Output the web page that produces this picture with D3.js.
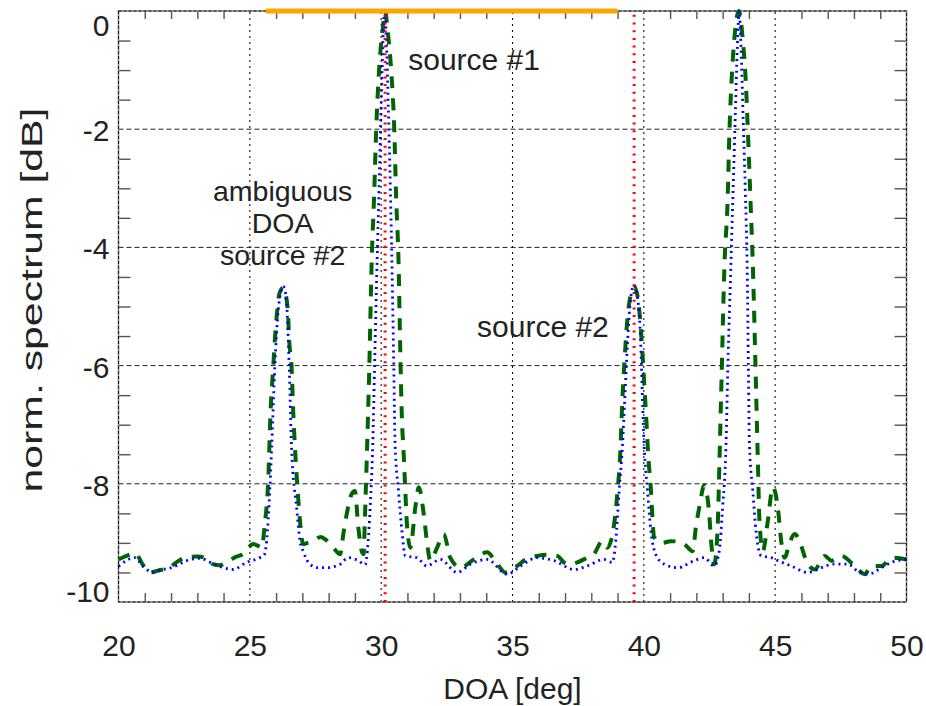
<!DOCTYPE html>
<html>
<head>
<meta charset="utf-8">
<script src="https://cdn.jsdelivr.net/npm/d3@7"></script>
<style>
  body { margin: 0; background: #fff; }
  text { font-family: "Liberation Sans", Arial, Helvetica, sans-serif; fill: #222; }
</style>
</head>
<body>
<svg id="chart" width="926" height="706"></svg>
<script>
// Axis ticks
const doaTicks = [20, 25, 30, 35, 40, 45, 50];
const dbTicks = [0, -2, -4, -6, -8, -10];

// Normalised spectrum, dashed (green) estimator: [DOA deg, dB]
const dashedTrace = [
  [20.0,-9.28],[20.3,-9.22],[20.65,-9.18],[20.9,-9.35],[21.18,-9.5],[21.5,-9.47],[21.95,-9.41],[22.3,-9.3],
  [22.6,-9.24],[23.0,-9.23],[23.35,-9.26],[23.6,-9.36],[23.85,-9.38],[24.11,-9.33],[24.45,-9.24],[24.75,-9.19],
  [25.13,-9.02],[25.35,-9.06],[25.45,-9.08],[25.57,-8.68],[25.7,-7.95],[25.79,-6.76],[25.89,-6.03],[25.95,-5.58],
  [26.02,-5.18],[26.12,-4.79],[26.27,-4.68],[26.37,-4.8],[26.46,-5.18],[26.5,-5.58],[26.59,-6.03],[26.65,-6.76],
  [26.72,-7.4],[26.84,-8.23],[26.91,-8.63],[27.03,-9.02],[27.2,-9.0],[27.42,-8.97],[27.7,-8.9],[27.9,-8.95],
  [28.18,-9.08],[28.44,-9.19],[28.56,-8.85],[28.69,-8.51],[28.88,-8.17],[29.0,-8.12],[29.13,-8.74],[29.26,-9.14],
  [29.33,-9.19],[29.38,-8.6],[29.45,-7.6],[29.55,-6.0],[29.64,-4.22],[29.73,-3.15],[29.81,-2.02],[29.92,-1.0],
  [30.06,-0.3],[30.15,0],[30.24,-0.3],[30.38,-1.0],[30.5,-2.02],[30.57,-3.15],[30.66,-4.22],[30.73,-5.8],
  [30.79,-6.9],[30.85,-7.43],[30.92,-8.12],[30.98,-8.68],[31.11,-9.08],[31.3,-8.4],[31.43,-8.06],[31.62,-8.51],
  [31.74,-8.97],[31.87,-9.3],[32.13,-9.08],[32.38,-8.85],[32.63,-9.25],[33.02,-9.42],[33.52,-9.28],[34.03,-9.16],
  [34.42,-9.36],[34.73,-9.5],[35.18,-9.39],[35.5,-9.28],[35.94,-9.22],[36.3,-9.2],[36.71,-9.22],[36.96,-9.33],
  [37.2,-9.36],[37.47,-9.33],[37.8,-9.26],[38.1,-9.19],[38.42,-8.97],[38.61,-9.08],[38.87,-8.68],[39.0,-8.12],
  [39.1,-7.5],[39.18,-6.6],[39.25,-6.03],[39.38,-5.18],[39.5,-4.8],[39.63,-4.67],[39.75,-4.8],[39.85,-5.18],
  [39.98,-6.03],[40.08,-6.8],[40.18,-7.6],[40.27,-8.1],[40.33,-8.6],[40.39,-8.9],[40.7,-9.0],[41.03,-8.97],
  [41.3,-8.98],[41.54,-9.02],[41.86,-9.14],[41.98,-8.74],[42.11,-8.4],[42.3,-8.03],[42.49,-8.51],[42.56,-8.97],
  [42.68,-9.36],[42.81,-8.74],[42.88,-7.6],[42.96,-6.2],[43.07,-4.3],[43.19,-3.2],[43.26,-2.02],[43.35,-1.1],
  [43.44,-0.5],[43.62,0],[43.77,-0.5],[43.87,-1.1],[43.96,-2.02],[44.06,-3.2],[44.15,-4.3],[44.25,-6.0],
  [44.34,-7.6],[44.4,-8.6],[44.53,-9.14],[44.72,-8.63],[44.91,-8.06],[45.1,-8.4],[45.23,-8.97],[45.36,-9.25],
  [45.55,-9.0],[45.74,-8.85],[45.93,-8.97],[46.18,-9.3],[46.5,-9.45],[46.89,-9.22],[47.14,-9.3],[47.52,-9.22],
  [48.03,-9.39],[48.41,-9.53],[48.66,-9.39],[49.05,-9.39],[49.43,-9.25],[50.0,-9.28]
];

// Normalised spectrum, dotted (blue) estimator: [DOA deg, dB]
const dottedTrace = [
  [20.0,-9.4],[20.3,-9.3],[20.61,-9.25],[20.95,-9.4],[21.31,-9.5],[21.7,-9.45],[22.07,-9.41],[22.6,-9.3],
  [23.09,-9.26],[23.6,-9.35],[24.0,-9.42],[24.36,-9.45],[24.87,-9.33],[25.38,-9.25],[25.55,-9.2],[25.64,-8.97],
  [25.76,-8.1],[25.83,-7.4],[25.95,-6.03],[26.08,-5.07],[26.18,-4.75],[26.27,-4.66],[26.35,-4.75],[26.42,-5.07],
  [26.5,-6.03],[26.59,-7.4],[26.78,-8.4],[26.91,-8.97],[27.03,-9.14],[27.29,-9.36],[27.6,-9.42],[27.93,-9.42],
  [28.44,-9.36],[28.75,-9.25],[29.13,-9.3],[29.39,-9.37],[29.5,-9.0],[29.58,-8.4],[29.68,-7.33],[29.75,-6.0],
  [29.83,-4.5],[29.92,-3.0],[30.0,-1.6],[30.07,-0.5],[30.13,0],[30.2,-0.5],[30.27,-1.6],[30.35,-3.0],
  [30.42,-4.5],[30.48,-6.0],[30.53,-7.33],[30.66,-8.12],[30.79,-8.8],[30.92,-9.22],[31.36,-9.25],[31.74,-9.39],
  [32.25,-9.28],[32.89,-9.5],[33.4,-9.36],[34.03,-9.28],[34.8,-9.53],[35.31,-9.39],[35.94,-9.25],[36.58,-9.3],
  [37.34,-9.45],[37.85,-9.39],[38.48,-9.28],[38.8,-9.33],[38.93,-8.97],[39.06,-8.12],[39.19,-7.33],[39.27,-6.6],
  [39.38,-5.6],[39.5,-4.85],[39.63,-4.64],[39.76,-4.85],[39.88,-5.6],[39.95,-6.6],[40.01,-7.33],[40.14,-8.12],
  [40.27,-8.8],[40.46,-9.2],[40.78,-9.36],[41.29,-9.42],[41.92,-9.3],[42.3,-9.25],[42.68,-9.39],[42.87,-9.14],
  [43.0,-8.4],[43.13,-7.33],[43.2,-6.0],[43.3,-4.5],[43.4,-3.0],[43.48,-1.8],[43.56,-0.6],[43.63,0],
  [43.7,-0.6],[43.78,-1.8],[43.86,-3.0],[43.94,-4.5],[43.98,-6.0],[44.02,-7.33],[44.15,-8.12],[44.27,-8.8],
  [44.47,-9.22],[44.85,-9.25],[45.1,-9.3],[45.61,-9.39],[46.25,-9.5],[46.76,-9.42],[47.2,-9.36],[47.77,-9.36],
  [48.15,-9.48],[48.54,-9.53],[49.05,-9.42],[49.43,-9.33],[50.0,-9.28]
];

// True source directions (deg) and the scanned sector (deg)
const sourceDoa = [30.15, 39.63];
const sectorRange = [25.6, 39.0];

// Text annotations
const noteLines = ["source #1", "ambiguous", "DOA", "source #2", "source #2"];

const svg = d3.select("#chart");
const x = d3.scaleLinear().domain([20, 50]).range([118.5, 906.5]);
const y = d3.scaleLinear().domain([-10, 0]).range([602, 11]);
const [x0, x1] = x.range();
const [y0, y1] = y.range();
const plainNumber = d => String(d);

// grid
const grid = svg.append("g");
grid.selectAll("line.v").data(doaTicks.slice(1, -1)).join("line")
  .attr("x1", d => x(d)).attr("x2", d => x(d)).attr("y1", y0).attr("y2", y1)
  .attr("stroke", "#111").attr("stroke-width", 1.1).attr("stroke-dasharray", "2,4");
grid.selectAll("line.h").data(dbTicks.slice(1, -1)).join("line")
  .attr("x1", x0).attr("x2", x1).attr("y1", d => y(d)).attr("y2", d => y(d))
  .attr("stroke", "#222").attr("stroke-width", 1).attr("stroke-dasharray", "5,3");

// minor ticks via axes
const xMinor = d3.range(21, 50).filter(v => v % 5 !== 0);
const yMinor = d3.range(-9.5, 0, 0.5).filter(v => v % 2 !== 0);
function styleMinor(g) {
  g.select(".domain").remove();
  g.selectAll(".tick line").attr("stroke", "#555").attr("stroke-width", 1.4);
}
svg.append("g").attr("transform", `translate(0,${y0})`)
  .call(d3.axisBottom(x).tickValues(xMinor).tickSize(-9).tickFormat("")).call(styleMinor);
svg.append("g").attr("transform", `translate(0,${y1})`)
  .call(d3.axisTop(x).tickValues(xMinor).tickSize(-8).tickFormat("")).call(styleMinor);
svg.append("g").attr("transform", `translate(${x0},0)`)
  .call(d3.axisLeft(y).tickValues(yMinor).tickSize(-12).tickFormat("")).call(styleMinor);
svg.append("g").attr("transform", `translate(${x1},0)`)
  .call(d3.axisRight(y).tickValues(yMinor).tickSize(-12).tickFormat("")).call(styleMinor);

// frame
svg.append("rect").attr("x", x0).attr("y", y1).attr("width", x1 - x0).attr("height", y0 - y1)
  .attr("fill", "none").attr("stroke", "#888").attr("stroke-width", 1.6);
svg.append("rect").attr("x", x0).attr("y", y1).attr("width", x1 - x0).attr("height", y0 - y1)
  .attr("fill", "none").attr("stroke", "#111").attr("stroke-width", 1).attr("stroke-dasharray", "3,2");

// tick labels
const xAxis = svg.append("g").attr("transform", `translate(0,${y0})`)
  .call(d3.axisBottom(x).tickValues(doaTicks).tickSize(0).tickPadding(33).tickFormat(plainNumber));
xAxis.select(".domain").remove();
xAxis.selectAll("text").attr("font-size", 30).attr("font-family", null).style("fill", "#222");

const yAxis = svg.append("g").attr("transform", `translate(${x0},0)`)
  .call(d3.axisLeft(y).tickValues(dbTicks).tickSize(0).tickPadding(9).tickFormat(plainNumber));
yAxis.select(".domain").remove();
yAxis.selectAll("text").attr("font-size", 30).attr("font-family", null).style("fill", "#222")
  .attr("dy", d => d === 0 ? "0.82em" : (d === -10 ? "-0.03em" : "0.38em"));

// axis titles
svg.append("text").attr("x", (x0 + x1) / 2).attr("y", 699).attr("text-anchor", "middle")
  .attr("font-size", 30).text("DOA [deg]");
svg.append("text").attr("transform", `translate(42,300) rotate(-90)`)
  .attr("text-anchor", "middle").attr("font-size", 30)
  .attr("textLength", 385).attr("lengthAdjust", "spacingAndGlyphs")
  .text("norm. spectrum [dB]");

// spectra
const line = d3.line().x(d => x(d[0])).y(d => y(d[1])).curve(d3.curveMonotoneX);
svg.append("path").datum(dashedTrace).attr("d", line)
  .attr("fill", "none").attr("stroke", "#006400").attr("stroke-width", 4)
  .attr("stroke-dasharray", "12,10");
svg.append("path").datum(dottedTrace).attr("d", line)
  .attr("fill", "none").attr("stroke", "#0000ff").attr("stroke-width", 2.8)
  .attr("stroke-dasharray", "2,4");

// source directions
svg.selectAll("line.src").data(sourceDoa).join("line")
  .attr("x1", d => x(d)).attr("x2", d => x(d)).attr("y1", y0).attr("y2", y1)
  .attr("stroke", "#ff0000").attr("stroke-width", 3).attr("stroke-dasharray", "2,5.7");

// scanned sector bar
svg.append("line").attr("x1", x(sectorRange[0])).attr("x2", x(sectorRange[1]))
  .attr("y1", y(0)).attr("y2", y(0)).attr("stroke", "#ffa500").attr("stroke-width", 5);

// annotations (anchored in data coordinates)
const notes = [
  { t: noteLines[0], dx: 31.03, db: -1.0, anchor: "start", size: 30 },
  { t: noteLines[1], dx: 26.25, db: -3.22, anchor: "middle", size: 28.5 },
  { t: noteLines[2], dx: 26.25, db: -3.76, anchor: "middle", size: 28.5 },
  { t: noteLines[3], dx: 26.25, db: -4.29, anchor: "middle", size: 28.5 },
  { t: noteLines[4], dx: 33.65, db: -5.52, anchor: "start", size: 30 }
];
svg.selectAll("text.note").data(notes).join("text")
  .attr("x", d => x(d.dx)).attr("y", d => y(d.db)).attr("text-anchor", d => d.anchor)
  .attr("font-size", d => d.size).text(d => d.t);
</script>
</body>
</html>
